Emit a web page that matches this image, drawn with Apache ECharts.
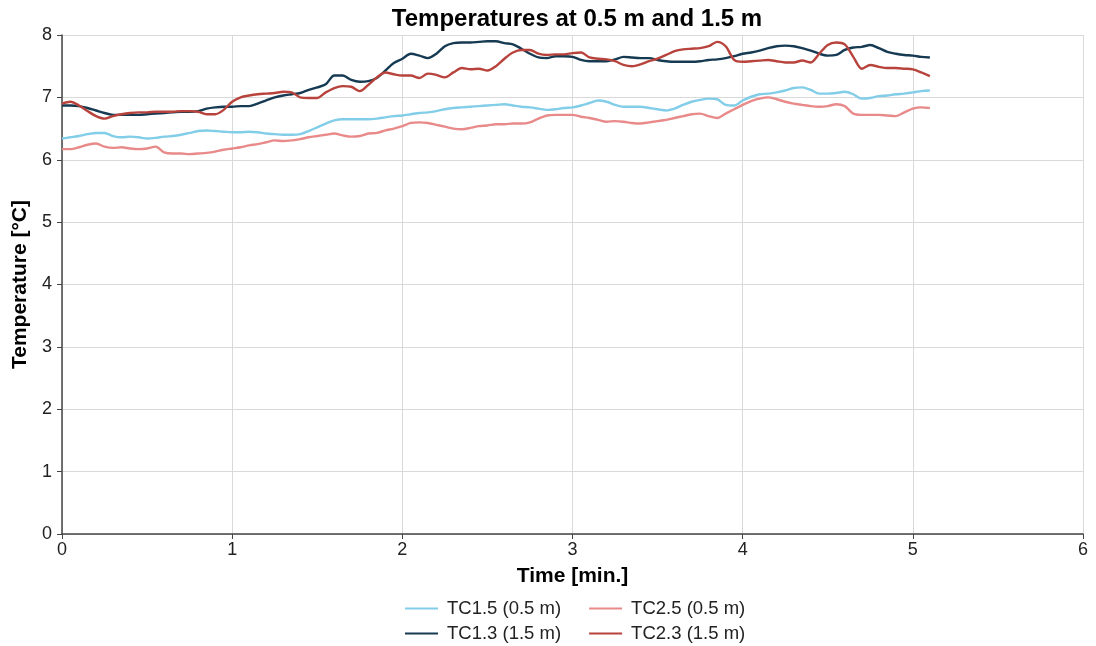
<!DOCTYPE html>
<html><head><meta charset="utf-8">
<script src="https://cdn.jsdelivr.net/npm/echarts@6/dist/echarts.min.js"></script>
<style>html,body{margin:0;padding:0;background:#fff}#c{width:1096px;height:646px}</style>
</head><body><div id="c"></div>
<script>
const times = [
0,0.05,0.1,0.15,0.2,0.25,0.3,0.35,0.4,0.45,
0.5,0.55,0.6,0.65,0.7,0.75,0.8,0.85,0.9,0.95,
1.0,1.05,1.1,1.15,1.2,1.25,1.3,1.35,1.4,1.45,
1.5,1.55,1.6,1.65,1.7,1.75,1.8,1.85,1.9,1.95,
2.0,2.05,2.1,2.15,2.2,2.25,2.3,2.35,2.4,2.45,
2.5,2.55,2.6,2.65,2.7,2.75,2.8,2.85,2.9,2.95,
3.0,3.05,3.1,3.15,3.2,3.25,3.3,3.35,3.4,3.45,
3.5,3.55,3.6,3.65,3.7,3.75,3.8,3.85,3.9,3.95,
4.0,4.05,4.1,4.15,4.2,4.25,4.3,4.35,4.4,4.45,
4.5,4.55,4.6,4.65,4.7,4.75,4.8,4.85,4.9,4.95,
5.0,5.05,5.1];

const tc15 = [
6.34,6.36,6.38,6.41,6.43,6.43,6.38,6.36,6.37,6.36,
6.34,6.35,6.37,6.38,6.40,6.43,6.46,6.47,6.46,6.45,
6.44,6.44,6.45,6.44,6.42,6.41,6.40,6.40,6.41,6.46,
6.52,6.58,6.63,6.65,6.65,6.65,6.65,6.66,6.68,6.70,
6.71,6.73,6.75,6.76,6.78,6.81,6.83,6.84,6.85,6.86,
6.87,6.88,6.89,6.87,6.85,6.84,6.82,6.80,6.81,6.83,
6.84,6.87,6.91,6.95,6.93,6.88,6.85,6.85,6.85,6.83,
6.81,6.79,6.82,6.88,6.93,6.96,6.98,6.97,6.88,6.87,
6.95,7.01,7.05,7.06,7.08,7.11,7.15,7.16,7.12,7.06,
7.06,7.07,7.09,7.05,6.98,6.99,7.02,7.03,7.05,7.06,
7.08,7.10,7.11];

const tc25 = [
6.17,6.17,6.20,6.24,6.26,6.21,6.19,6.20,6.18,6.17,
6.18,6.21,6.12,6.10,6.10,6.09,6.10,6.11,6.13,6.16,
6.18,6.20,6.23,6.25,6.28,6.31,6.30,6.31,6.33,6.36,
6.38,6.40,6.42,6.39,6.37,6.38,6.42,6.43,6.47,6.50,
6.54,6.59,6.60,6.59,6.56,6.53,6.50,6.49,6.51,6.54,
6.55,6.57,6.57,6.58,6.58,6.60,6.66,6.71,6.72,6.72,
6.72,6.69,6.67,6.64,6.61,6.62,6.61,6.59,6.58,6.60,
6.62,6.64,6.67,6.70,6.73,6.74,6.70,6.67,6.74,6.81,
6.88,6.94,6.98,7.00,6.97,6.93,6.90,6.88,6.86,6.85,
6.86,6.89,6.86,6.74,6.72,6.72,6.72,6.71,6.70,6.76,
6.82,6.84,6.83];

const tc13 = [
6.87,6.87,6.86,6.83,6.79,6.75,6.72,6.72,6.72,6.72,
6.73,6.74,6.75,6.76,6.77,6.77,6.78,6.82,6.84,6.85,
6.85,6.86,6.86,6.90,6.95,7.00,7.03,7.05,7.07,7.12,
7.16,7.21,7.35,7.35,7.28,7.25,7.26,7.31,7.43,7.55,
7.62,7.70,7.67,7.63,7.70,7.82,7.87,7.88,7.88,7.89,
7.90,7.90,7.87,7.85,7.78,7.70,7.64,7.63,7.66,7.66,
7.65,7.60,7.58,7.58,7.58,7.61,7.65,7.64,7.63,7.63,
7.60,7.58,7.57,7.57,7.57,7.58,7.60,7.61,7.63,7.66,
7.70,7.72,7.75,7.79,7.82,7.83,7.82,7.79,7.75,7.70,
7.67,7.68,7.76,7.80,7.81,7.84,7.79,7.73,7.70,7.68,
7.67,7.65,7.64];

const tc23 = [
6.90,6.93,6.87,6.78,6.70,6.66,6.70,6.73,6.75,6.76,
6.76,6.77,6.77,6.77,6.78,6.78,6.77,6.73,6.73,6.80,
6.93,7.00,7.03,7.05,7.06,7.07,7.09,7.08,7.00,6.99,
6.99,7.08,7.15,7.18,7.17,7.10,7.20,7.32,7.40,7.37,
7.35,7.35,7.31,7.38,7.36,7.32,7.40,7.47,7.45,7.46,
7.43,7.50,7.62,7.72,7.76,7.76,7.70,7.68,7.69,7.69,
7.71,7.72,7.64,7.62,7.61,7.58,7.52,7.50,7.53,7.58,
7.62,7.68,7.74,7.77,7.78,7.79,7.82,7.89,7.82,7.60,
7.57,7.58,7.59,7.60,7.58,7.56,7.56,7.59,7.56,7.70,
7.84,7.88,7.85,7.65,7.46,7.52,7.49,7.47,7.47,7.46,
7.45,7.40,7.34];

const seriesNames = ['TC1.5 (0.5 m)','TC2.5 (0.5 m)','TC1.3 (1.5 m)','TC2.3 (1.5 m)'];
const seriesValues = [tc15, tc25, tc13, tc23];
const seriesColors = ['#82cde8','#e98a8a','#153a52','#b8433c'];
const xTicks = [0,1,2,3,4,5,6];
const yTicks = [0,1,2,3,4,5,6,7,8];

const chart = echarts.init(document.getElementById('c'));
const font = 'Liberation Sans, Arial, sans-serif';
const legendText = {fontFamily:font,fontSize:18.5,color:'#222',padding:[0,0,0,4]};
chart.setOption({
  animation:false,
  backgroundColor:'#fff',
  title:{text:'Temperatures at 0.5 m and 1.5 m',left:572,textAlign:'center',top:2,
    textStyle:{fontFamily:font,fontSize:24,fontWeight:'bold',color:'#000'}},
  grid:{left:62,right:13,top:35,bottom:112,containLabel:false,outerBoundsMode:'none'},
  legend:[
    {data:[seriesNames[0],seriesNames[1]],left:400,top:594,itemWidth:33,itemHeight:2,itemGap:28,
      icon:'rect',textStyle:legendText},
    {data:[seriesNames[2],seriesNames[3]],left:400,top:619,itemWidth:33,itemHeight:2,itemGap:28,
      icon:'rect',textStyle:legendText}
  ],
  xAxis:{type:'value',min:xTicks[0],max:xTicks[xTicks.length-1],interval:1,
    name:'Time [min.]',nameLocation:'middle',nameGap:32,
    nameTextStyle:{fontFamily:font,fontSize:21,fontWeight:'bold',color:'#000'},
    axisLine:{lineStyle:{color:'#444',width:1.5}},
    axisTick:{show:true,length:5,lineStyle:{color:'#444'}},
    axisLabel:{fontFamily:font,fontSize:18,color:'#222',margin:7},
    splitLine:{show:true,lineStyle:{color:'#d9d9d9',width:1}}},
  yAxis:{type:'value',min:yTicks[0],max:yTicks[yTicks.length-1],interval:1,
    name:'Temperature [°C]',nameLocation:'middle',nameGap:29,nameRotate:90,
    nameTextStyle:{fontFamily:font,fontSize:21,fontWeight:'bold',color:'#000'},
    axisLine:{show:true,lineStyle:{color:'#444',width:1.5}},
    axisTick:{show:true,length:5,lineStyle:{color:'#444'}},
    axisLabel:{fontFamily:font,fontSize:18,color:'#222',margin:10},
    splitLine:{show:true,lineStyle:{color:'#d9d9d9',width:1}}},
  series: seriesNames.map((n,i)=>({
    name:n,type:'line',showSymbol:false,symbol:'none',smooth:0.3,
    data: times.map((t,k)=>[t, seriesValues[i][k]]),
    lineStyle:{color:seriesColors[i],width:2.4},
    itemStyle:{color:seriesColors[i]}
  }))
});
</script></body></html>
